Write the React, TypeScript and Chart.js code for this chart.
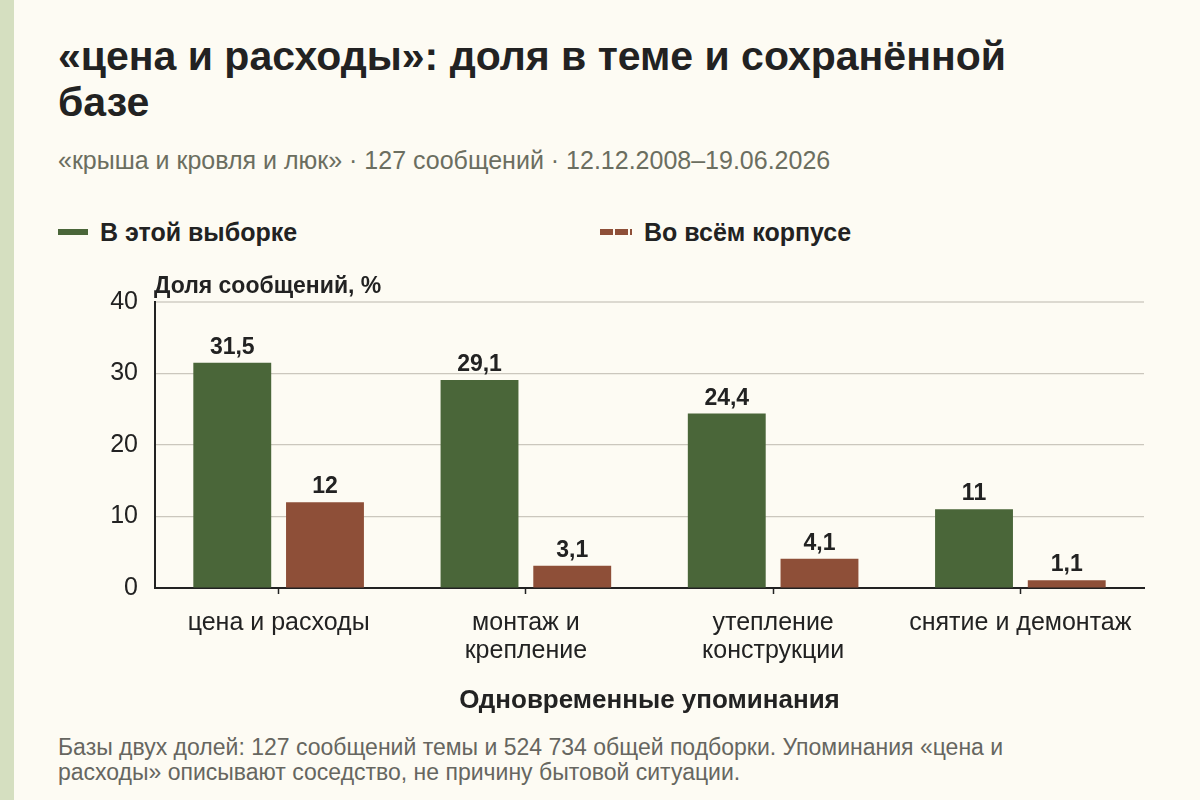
import { useEffect, useRef } from "react";
import { Chart, registerables } from "chart.js";

Chart.register(...registerables);

const categories = [["цена и расходы"], ["монтаж и", "крепление"], ["утепление", "конструкции"], ["снятие и демонтаж"]];
const sampleShare = [31.5, 29.1, 24.4, 11];
const corpusShare = [12, 3.1, 4.1, 1.1];
const yTicks = [0, 10, 20, 30, 40];

const FONT = '"Liberation Sans", Arial, sans-serif';
const GREEN = "#4a6639";
const RED = "#8e4f38";
const INK = "#222222";

const fmt = (v: number) => String(v).replace(".", ",");

export default function App() {
  const canvasRef = useRef<HTMLCanvasElement>(null);
  const chartRef = useRef<Chart | null>(null);

  useEffect(() => {
    if (!canvasRef.current) return;
    if (chartRef.current) chartRef.current.destroy();

    chartRef.current = new Chart(canvasRef.current, {
      type: "bar",
      data: {
        labels: categories,
        datasets: [
          { label: "В этой выборке", data: sampleShare, backgroundColor: GREEN, barPercentage: 0.84, categoryPercentage: 0.75 },
          { label: "Во всём корпусе", data: corpusShare, backgroundColor: RED, barPercentage: 0.84, categoryPercentage: 0.75 },
        ],
      },
      options: {
        responsive: false,
        animation: false,
        layout: { padding: { top: 31, right: 16, left: 0, bottom: 0 } },
        plugins: { legend: { display: false }, tooltip: { enabled: false } },
        scales: {
          x: {
            afterFit: (s: any) => {
              s.height = 132;
            },
            grid: { offset: false, drawOnChartArea: false, drawTicks: true, tickLength: 6, tickWidth: 1.5, tickColor: INK },
            border: { color: INK, width: 2 },
            ticks: { color: INK, font: { family: FONT, size: 25, lineHeight: 1.12 }, padding: 15, maxRotation: 0 },
            title: {
              display: true,
              text: "Одновременные упоминания",
              color: INK,
              font: { family: FONT, size: 26, weight: "bold" },
              padding: { top: 0, bottom: 4 },
            },
          },
          y: {
            min: 0,
            max: 40,
            afterBuildTicks: (s: any) => {
              s.ticks = yTicks.map((v) => ({ value: v }));
            },
            afterFit: (s: any) => {
              s.width = 65;
            },
            grid: { color: (c: any) => (c.tick && c.tick.value === 40 ? "#dcd9d0" : "#cbc7bd"), lineWidth: (c: any) => (c.tick && c.tick.value === 40 ? 2 : 1.2), drawTicks: false },
            border: { color: INK, width: 2 },
            ticks: { color: INK, font: { family: FONT, size: 25 }, padding: 17 },
          },
        },
      },
      plugins: [
        {
          id: "labels",
          afterDatasetsDraw: (chart: any) => {
            const { ctx, chartArea } = chart;
            ctx.save();
            ctx.fillStyle = INK;
            ctx.font = `bold 23px ${FONT}`;
            ctx.textAlign = "center";
            ctx.textBaseline = "alphabetic";
            chart.data.datasets.forEach((ds: any, i: number) => {
              chart.getDatasetMeta(i).data.forEach((bar: any, j: number) => {
                ctx.fillText(fmt(ds.data[j]), bar.x, bar.y - 9);
              });
            });
            ctx.textAlign = "left";
            ctx.fillText("Доля сообщений, %", chartArea.left - 1, chartArea.top - 9);
            ctx.restore();
          },
        },
      ],
    } as any);

    return () => {
      if (chartRef.current) {
        chartRef.current.destroy();
        chartRef.current = null;
      }
    };
  }, []);

  return (
    <div style={{ position: "fixed", inset: 0, width: 1200, height: 800, background: "#fdfbf3", fontFamily: FONT, color: INK, overflow: "hidden" }}>
      <div style={{ position: "absolute", left: 0, top: 0, width: 14, height: 800, background: "#d5dfc0" }} />
      <div style={{ position: "absolute", left: 58, top: 33, width: 1000, fontSize: 41, fontWeight: "bold", lineHeight: "46px" }}>
        «цена и расходы»: доля в теме и сохранённой базе
      </div>
      <div style={{ position: "absolute", left: 58, top: 145, fontSize: 25, lineHeight: "30px", color: "#6b6e60" }}>
        «крыша и кровля и люк» · 127 сообщений · 12.12.2008–19.06.2026
      </div>
      <div style={{ position: "absolute", left: 58, top: 217, height: 30, display: "flex", alignItems: "center", fontSize: 25, fontWeight: "bold" }}>
        <span style={{ display: "inline-block", width: 30, height: 6, background: GREEN, marginRight: 12 }} />
        В этой выборке
      </div>
      <div style={{ position: "absolute", left: 600, top: 217, height: 30, display: "flex", alignItems: "center", fontSize: 25, fontWeight: "bold" }}>
        <span style={{ display: "inline-block", width: 32, height: 6, marginRight: 12, background: `repeating-linear-gradient(90deg, ${RED} 0 13px, transparent 13px 15px)` }} />
        Во всём корпусе
      </div>
      <canvas ref={canvasRef} width={1070} height={450} style={{ position: "absolute", left: 90, top: 270, width: 1070, height: 450 }} />
      <div style={{ position: "absolute", left: 58, top: 735, width: 1100, fontSize: 23, lineHeight: "25px", color: "#666660" }}>
        Базы двух долей: 127 сообщений темы и 524 734 общей подборки. Упоминания «цена и<br />
        расходы» описывают соседство, не причину бытовой ситуации.
      </div>
    </div>
  );
}
